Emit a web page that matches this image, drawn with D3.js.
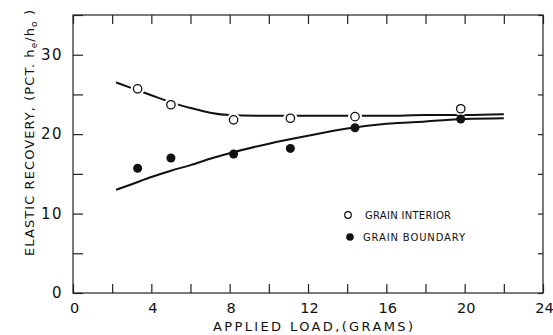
<!DOCTYPE html>
<html>
<head>
<meta charset="utf-8">
<script src="https://cdn.jsdelivr.net/npm/d3@7"></script>
<style>
  body { margin: 0; background: #fff; }
  svg text { font-family: "DejaVu Sans", sans-serif; fill: #111; }
</style>
</head>
<body>
<div id="chart"></div>
<script>
// measured points
var loads = [3.3, 5.0, 8.2, 11.1, 14.4, 19.8];
var interior = [25.7, 23.7, 21.8, 22.0, 22.2, 23.2];
var boundary = [15.7, 17.0, 17.5, 18.2, 20.8, 21.9];

// hand drawn fit curves
var fitLoads = [2.2, 3, 4, 5, 6, 7, 8, 10, 12, 14, 16, 18, 20, 22];
var interiorFit = [26.5, 25.8, 24.9, 24.0, 23.3, 22.7, 22.4, 22.3, 22.3, 22.3, 22.3, 22.4, 22.4, 22.5];
var boundaryFit = [13.0, 13.7, 14.6, 15.4, 16.1, 16.9, 17.6, 18.8, 19.8, 20.7, 21.3, 21.6, 21.9, 22.0];

var xTicks = [0, 4, 8, 12, 16, 20, 24];
var yTicks = [0, 10, 20, 30];

var W = 553, H = 335;
var x = d3.scaleLinear().domain([0, 24]).range([73, 543]);
var y = d3.scaleLinear().domain([0, 35]).range([293, 15]);

var svg = d3.select("#chart").append("svg")
  .attr("width", W)
  .attr("height", H);

// frame
svg.append("rect")
  .attr("x", x(0)).attr("y", y(35))
  .attr("width", x(24) - x(0)).attr("height", y(0) - y(35))
  .attr("fill", "none").attr("stroke", "#222").attr("stroke-width", 1.2);

var minorX = d3.range(0, 25, 2);
var minorY = d3.range(0, 36, 5);

// bottom axis
svg.append("g")
  .attr("class", "bottom")
  .attr("transform", "translate(0," + y(0) + ")")
  .call(d3.axisBottom(x).tickValues(minorX).tickSize(-9).tickPadding(10)
    .tickFormat(function(d) { return xTicks.indexOf(d) >= 0 ? d : ""; }));

// top axis
svg.append("g")
  .attr("transform", "translate(0," + y(35) + ")")
  .call(d3.axisTop(x).tickValues(minorX).tickSize(-9).tickFormat(""));

// left axis
svg.append("g")
  .attr("class", "left")
  .attr("transform", "translate(" + x(0) + ",0)")
  .call(d3.axisLeft(y).tickValues(minorY).tickSize(-10).tickPadding(10)
    .tickFormat(function(d) { return yTicks.indexOf(d) >= 0 ? d : ""; }));

// right axis
svg.append("g")
  .attr("transform", "translate(" + x(24) + ",0)")
  .call(d3.axisRight(y).tickValues(minorY).tickSize(-5).tickFormat(""));

svg.selectAll(".domain").remove();
svg.selectAll(".tick line").attr("stroke", "#222").attr("stroke-width", 1.2);
svg.selectAll(".left .tick text").style("font-size", "15px").style("letter-spacing", "1.5px");
svg.selectAll(".bottom .tick text").style("font-size", "14.5px").attr("dx", 1);

// fit curves
var line = d3.line()
  .x(function(d) { return x(d[0]); })
  .y(function(d) { return y(d[1]); })
  .curve(d3.curveMonotoneX);

svg.append("path")
  .datum(d3.zip(fitLoads, interiorFit))
  .attr("d", line)
  .attr("fill", "none").attr("stroke", "#111").attr("stroke-width", 2);

svg.append("path")
  .datum(d3.zip(fitLoads, boundaryFit))
  .attr("d", line)
  .attr("fill", "none").attr("stroke", "#111").attr("stroke-width", 2);

// white halo behind open circles so the line breaks there
svg.selectAll(".halo")
  .data(d3.zip(loads, interior))
  .enter().append("circle")
  .attr("cx", function(d) { return x(d[0]); })
  .attr("cy", function(d) { return y(d[1]); })
  .attr("r", 7)
  .attr("fill", "#fff");

svg.selectAll(".open")
  .data(d3.zip(loads, interior))
  .enter().append("circle")
  .attr("cx", function(d) { return x(d[0]); })
  .attr("cy", function(d) { return y(d[1]); })
  .attr("r", 4.2)
  .attr("fill", "#fff").attr("stroke", "#111").attr("stroke-width", 1.3);

svg.selectAll(".solid")
  .data(d3.zip(loads, boundary))
  .enter().append("circle")
  .attr("cx", function(d) { return x(d[0]); })
  .attr("cy", function(d) { return y(d[1]); })
  .attr("r", 4.5)
  .attr("fill", "#111");

// legend
var legend = svg.append("g").attr("transform", "translate(348,0)");
legend.append("circle").attr("cx", 0).attr("cy", 215).attr("r", 3.3)
  .attr("fill", "#fff").attr("stroke", "#111").attr("stroke-width", 1.2);
legend.append("text").attr("x", 17).attr("y", 219)
  .style("font-size", "10px").attr("textLength", 86).text("GRAIN INTERIOR");
legend.append("circle").attr("cx", 2).attr("cy", 237).attr("r", 3.8)
  .attr("fill", "#111");
legend.append("text").attr("x", 15).attr("y", 241)
  .style("font-size", "10px").attr("textLength", 102).text("GRAIN BOUNDARY");

// axis titles
svg.append("text")
  .attr("x", 313).attr("y", 331)
  .attr("text-anchor", "middle")
  .attr("textLength", 200)
  .style("font-size", "13px")
  .text("APPLIED LOAD,(GRAMS)");

var yl = svg.append("text")
  .attr("transform", "translate(34,133) rotate(-90)")
  .attr("text-anchor", "middle")
  .attr("textLength", 246)
  .style("font-size", "13px");
yl.append("tspan").text("ELASTIC RECOVERY, (PCT. h");
yl.append("tspan").attr("dy", 3).style("font-size", "9px").text("e");
yl.append("tspan").attr("dy", -3).text("/h");
yl.append("tspan").attr("dy", 3).style("font-size", "9px").text("o");
yl.append("tspan").attr("dy", -3).text(" )");
</script>
</body>
</html>
